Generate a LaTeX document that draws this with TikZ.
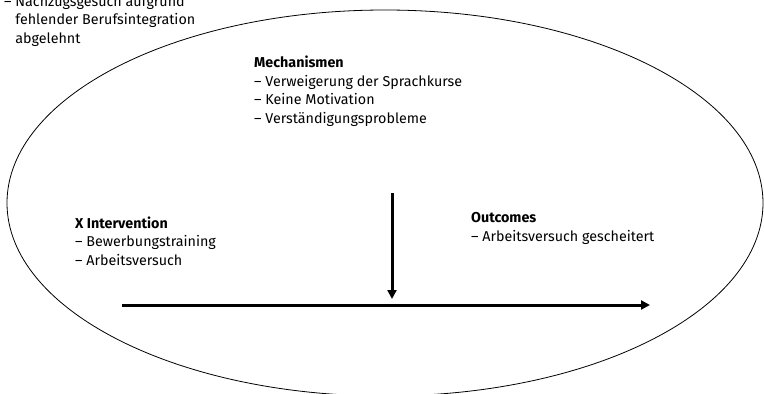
\documentclass[tikz,border=0pt]{standalone}
\usepackage{fontspec}
\setmainfont{Fira Sans}
\usetikzlibrary{arrows.meta}
\begin{document}
\begin{tikzpicture}[x=1pt,y=-1pt,
  txt/.style={anchor=base west,align=left,inner sep=0pt,font=\fontsize{14.3}{18.4}\selectfont},
  arr/.style={line width=3pt,-{Triangle[length=9pt,width=9pt]}}]
\useasboundingbox (0,0) rectangle (764,394);
\begin{scope}
\clip (0,0) rectangle (764,394);
\draw[line width=0.8pt] (385,203) ellipse [x radius=378, y radius=193];
\node[txt] (pre) at (4,43) {– Nachzugsgesuch aufgrund\\\hphantom{– }fehlender Berufsintegration\\\hphantom{– }abgelehnt};
\end{scope}
\node[txt] (mech) at (254,123) {\textbf{Mechanismen}\\– Verweigerung der Sprachkurse\\– Keine Motivation\\– Verständigungsprobleme};
\node[txt] (int) at (75,265) {\textbf{X Intervention}\\– Bewerbungstraining\\– Arbeitsversuch};
\node[txt] (out) at (471,241) {\textbf{Outcomes}\\– Arbeitsversuch gescheitert};
\coordinate (vs) at (392,193);
\coordinate (ve) at (392,299);
\coordinate (hs) at (122,305);
\coordinate (he) at (650,305);
\draw[arr] (vs) -- (ve);
\draw[arr] (hs) -- (he);
\end{tikzpicture}
\end{document}
